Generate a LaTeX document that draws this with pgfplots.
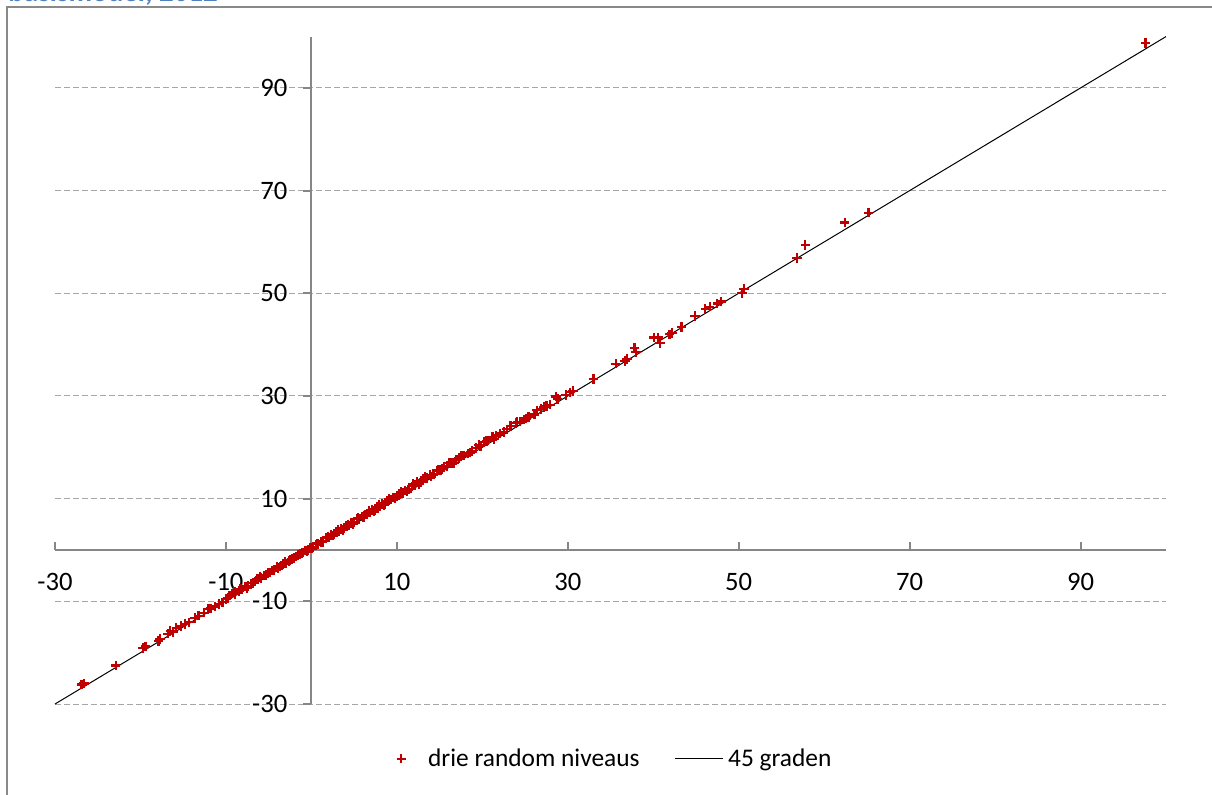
\documentclass[border=0pt]{standalone}
\usepackage{fontspec}
\setmainfont{Carlito}
\usepackage{pgfplots}
\pgfplotsset{compat=1.18}
\definecolor{axisgray}{HTML}{868686}
\definecolor{gridgray}{HTML}{A6A6A6}
\definecolor{framegray}{HTML}{898989}
\definecolor{markred}{HTML}{C00000}
\definecolor{titleblue}{HTML}{4F81BD}
\begin{document}
\begin{tikzpicture}
\useasboundingbox (-27.5pt,-45pt) rectangle (578.5pt,352pt);
\begin{axis}[
  scale only axis,
  width=555.5pt, height=333.7pt,
  xmin=-30, xmax=100, ymin=-30, ymax=100,
  axis lines=middle,
  axis line style={color=axisgray, line width=1pt, -},
  xtick={-30,-10,10,30,50,70,90},
  xticklabels={-30,-10,10,30,50,70,90},
  ytick={-30,-10,10,30,50,70,90},
  yticklabels={-30,-10,10,30,50,70,90},
  tick align=center,
  major tick length=4pt,
  tick style={color=axisgray, line width=1pt},
  x tick style={yshift=2pt},
  y tick style={xshift=-2pt},
  ymajorgrids,
  major grid style={color=gridgray, line width=0.5pt, dash pattern=on 3pt off 1.5pt},
  tick label style={font=\fontsize{13.3}{16}\selectfont, text=black},
  xticklabel style={yshift=-6pt},
  yticklabel style={xshift=-6.5pt},
  legend columns=2,
  legend style={at={(0.505,-0.082)}, anchor=center, draw=none, fill=none,
    font=\fontsize{12.7}{15}\selectfont,
    /tikz/every even column/.append style={column sep=15.5pt}},
  clip=false,
]
\addplot[only marks, mark=+, mark size=2.4pt, mark options={line width=1.1pt, color=markred},
  legend image code/.code={\draw[mark=+, mark size=2.2pt, mark options={line width=1.1pt, color=markred}] plot coordinates {(0pt,0pt)}; \path[draw=none] (-2pt,0pt) -- (11.5pt,0pt);}] coordinates {
(-26.9,-26.2) (-26.6,-26.0) (-22.9,-22.5) (-19.7,-19.1) (-19.4,-18.8) (-17.9,-17.7) (-17.7,-17.3) (-16.8,-16.3) (-16.5,-15.8) (-16.2,-16.0) (-15.8,-15.2) (-15.3,-14.8) (-14.8,-14.4) (-14.3,-14.1) (-13.6,-13.3) (-13.2,-12.8) (-12.6,-12.2) (-12.1,-11.5) (-11.8,-11.4) (-11.3,-11.0) (-10.8,-10.5) (-10.4,-10.2) (-10.0,-9.6) (-9.6,-8.9) (-9.3,-8.5) (-8.9,-8.6) (-8.5,-8.0) (-8.1,-7.7) (-7.7,-7.1) (-7.4,-7.0) (-7.0,-6.5) (-6.6,-6.1) (-6.3,-5.7) (-5.9,-5.5) (-5.5,-5.0) (-5.1,-4.5) (-4.8,-4.4) (-4.4,-3.9) (-4.0,-3.3) (-3.7,-3.2) (-3.3,-2.7) (-3.0,-2.6) (-2.6,-2.1) (-2.3,-1.7) (-2.0,-1.6) (-1.6,-1.0) (-1.3,-0.8) (-1.0,-0.5) (-0.7,-0.1) (-0.4,0.0) (-0.1,0.4) (0.2,0.6) (0.5,1.1) (0.8,1.2) (1.1,1.6) (1.4,1.8) (1.7,2.3) (2.0,2.4) (2.3,2.9) (2.6,3.0) (2.9,3.5) (3.2,3.6) (3.5,4.1) (3.8,4.2) (4.1,4.7) (4.4,4.8) (4.7,5.3) (5.0,5.4) (5.3,6.0) (5.6,6.0) (5.9,6.5) (6.2,6.7) (6.5,7.1) (6.8,7.3) (7.1,7.8) (7.4,7.8) (7.7,8.4) (8.0,8.5) (8.3,9.0) (8.6,9.0) (8.9,9.5) (9.3,9.8) (9.6,10.2) (10.0,10.4) (10.3,10.9) (10.7,11.1) (11.0,11.6) (11.4,11.9) (11.8,12.4) (12.1,12.7) (12.4,13.2) (12.8,13.3) (13.1,13.8) (13.5,14.0) (13.9,14.6) (14.3,14.8) (14.7,15.4) (15.1,15.6) (15.5,16.2) (15.9,16.4) (16.4,17.0) (16.9,17.5) (17.3,17.9) (17.8,18.4) (18.3,18.8) (18.8,19.3) (19.3,19.9) (19.8,20.3) (20.2,21.0) (20.7,21.3) (21.2,22.0) (21.6,22.2) (22.1,22.7) (22.5,23.0) (23.3,24.1) (23.9,24.7) (24.4,25.0) (24.9,25.4) (25.4,25.9) (26.4,27.2) (26.9,27.5) (27.5,28.0) (27.9,28.3) (28.6,29.9) (28.8,29.4) (29.8,30.2) (30.3,30.7) (30.6,31.0) (33.0,33.3) (35.6,36.3) (36.7,36.8) (36.9,37.2) (37.8,39.4) (38.0,38.6) (40.1,41.4) (40.6,41.4) (40.8,40.3) (41.9,42.0) (42.2,42.3) (43.3,43.4) (44.9,45.6) (46.1,47.0) (46.6,47.4) (47.5,48.0) (47.9,48.4) (50.4,50.1) (50.6,50.8) (56.8,56.9) (57.8,59.4) (62.4,63.8) (65.2,65.7) (97.6,98.8)
(-9.8,-9.3) (-9.0,-8.2) (-8.3,-7.6) (-7.5,-7.4) (-6.8,-6.4) (-6.0,-5.2) (-5.3,-4.9) (-4.6,-4.0) (-3.9,-3.6) (-3.1,-2.3) (-2.5,-2.0) (-1.8,-1.3) (-1.1,-0.6) (-0.5,-0.2) (0.1,0.3) (0.7,1.3) (1.3,1.5) (1.9,2.6) (2.5,2.8) (3.1,3.9) (3.7,3.9) (4.3,5.0) (4.9,5.1) (5.5,6.3) (6.1,6.3) (6.7,7.6) (7.3,7.5) (7.9,8.8) (8.5,8.7) (9.1,9.9) (9.8,10.0) (10.5,11.3) (11.2,11.4) (11.9,12.8) (12.6,12.9) (13.3,14.2) (14.0,14.3) (14.8,15.6) (15.3,15.8) (16.1,16.9) (16.7,17.0) (17.5,18.3) (18.6,19.0) (19.6,20.5) (20.5,21.2) (21.4,21.6) (22.9,23.5) (24.1,25.0) (25.1,25.6) (26.1,26.4) (27.2,27.8)
};
\addlegendentry{drie random niveaus}
\addplot[black, line width=0.5pt, legend image code/.code={\draw[black, line width=0.5pt] (0pt,0pt) -- (24pt,0pt); \path[draw=none] (0pt,0pt) -- (24.5pt,0pt);}] coordinates {(-30,-30) (100,100)};
\addlegendentry{45 graden}
\end{axis}
\draw[framegray, line width=1pt] (-24pt,-60pt) -- (-24pt,348.5pt) -- (700pt,348.5pt);
\node[anchor=base west, font=\fontsize{14.5}{17}\selectfont\bfseries, text=titleblue, inner sep=0pt] at (-23.5pt,351.1pt) {basismodel, 2012};
\end{tikzpicture}
\end{document}
